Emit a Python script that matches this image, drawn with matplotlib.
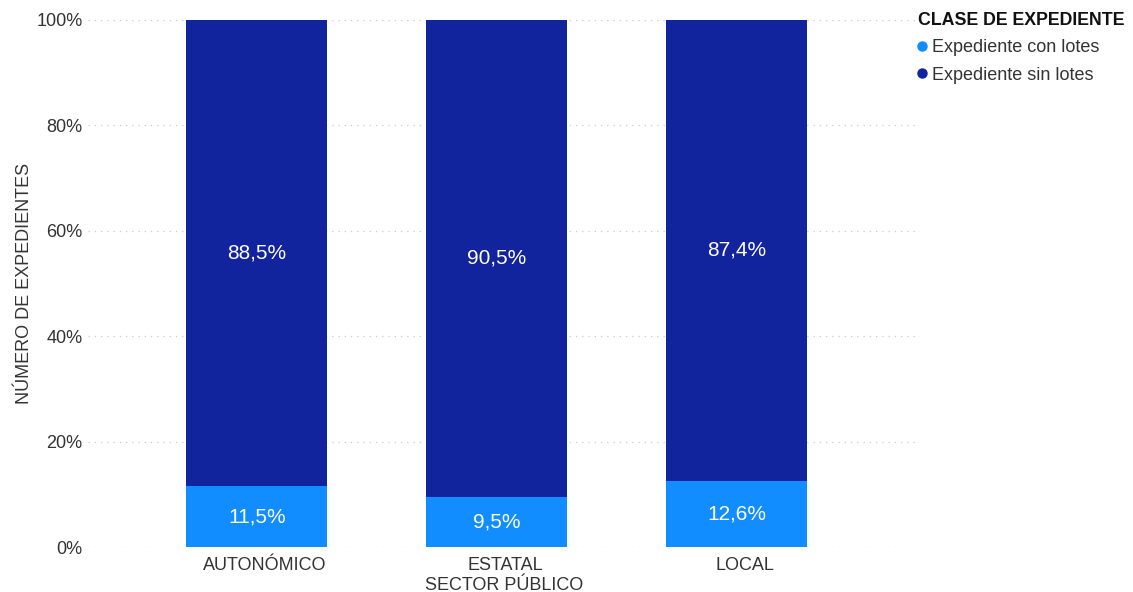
import matplotlib
matplotlib.use("Agg")
import matplotlib.pyplot as plt
import matplotlib.transforms as mtransforms
from matplotlib.ticker import PercentFormatter
from matplotlib.lines import Line2D

plt.rcParams['font.family'] = ['Liberation Sans', 'DejaVu Sans']

categories = ["AUTONÓMICO", "ESTATAL", "LOCAL"]
con_lotes = [11.5, 9.5, 12.6]
sin_lotes = [88.5, 90.5, 87.4]
series_names = ["Expediente con lotes", "Expediente sin lotes"]
colors = ["#118DFF", "#12239E"]
text_color = "#333333"

fig = plt.figure(figsize=(11.33, 5.92), dpi=100)
ax = fig.add_axes([88/1133, 1-547/592, (920-88)/1133, (547-20)/592])

x = list(range(len(categories)))
w = 0.5875
ax.bar(x, con_lotes, width=w, color=colors[0], zorder=3)
ax.bar(x, sin_lotes, width=w, bottom=con_lotes, color=colors[1], zorder=3)

def fmt(v):
    return f"{v:.1f}%".replace(".", ",")

for i in x:
    ax.text(i, con_lotes[i]/2, fmt(con_lotes[i]), ha='center', va='center',
            color='white', fontsize=15, zorder=4)
    ax.text(i, con_lotes[i] + sin_lotes[i]/2, fmt(sin_lotes[i]), ha='center', va='center',
            color='white', fontsize=15, zorder=4)

ax.set_xlim(-0.704, 2.763)
ax.set_ylim(0, 100)
ax.set_yticks([0, 20, 40, 60, 80, 100])
ax.yaxis.set_major_formatter(PercentFormatter(decimals=0))
ax.set_xticks(x)
ax.set_xticklabels(categories)
ax.tick_params(axis='both', length=0, labelsize=13, colors=text_color, pad=4)
ax.tick_params(axis='x', pad=7)
offset = mtransforms.ScaledTranslation(8/100, 0, fig.dpi_scale_trans)
for lbl in ax.get_xticklabels():
    lbl.set_transform(lbl.get_transform() + offset)
ax.grid(axis='y', linestyle=(0, (1, 4)), color='#c8c8c8', linewidth=0.9, zorder=0)
for s in ax.spines.values():
    s.set_visible(False)

ax.set_xlabel("SECTOR PÚBLICO", fontsize=13, color=text_color, labelpad=2)
ax.set_ylabel("NÚMERO DE EXPEDIENTES", fontsize=13, color=text_color, labelpad=2)

handles = [Line2D([0], [0], marker='o', linestyle='', markersize=6.5,
                  markerfacecolor=c, markeredgecolor=c) for c in colors]
leg = fig.legend(handles, series_names, loc='upper left', bbox_to_anchor=(914/1133, 1-8/592),
                 frameon=False, fontsize=13, title="CLASE DE EXPEDIENTE",
                 title_fontproperties={'weight': 'bold', 'size': 12.8},
                 handletextpad=0.3, handlelength=0.5, labelspacing=0.58,
                 borderaxespad=0, borderpad=0.2, alignment='left')
for t in leg.get_texts():
    t.set_color(text_color)
leg.get_title().set_color('#111111')

fig.savefig("out.png", dpi=100)
